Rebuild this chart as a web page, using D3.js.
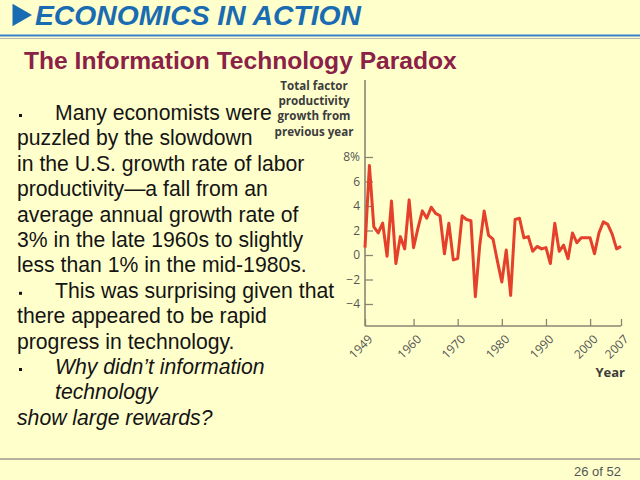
<!DOCTYPE html>
<html>
<head>
<meta charset="utf-8">
<script src="https://cdn.jsdelivr.net/npm/d3@7"></script>
<style>
  html, body { margin: 0; padding: 0; background: #ffffcc; }
  svg { display: block; }
</style>
</head>
<body>
<svg id="chart" width="640" height="480"></svg>
<script>
// ---- Data ----
const years = [1949,1950,1951,1952,1953,1954,1955,1956,1957,1958,1959,1960,1961,1962,1963,1964,1965,1966,1967,1968,1969,1970,1971,1972,1973,1974,1975,1976,1977,1978,1979,1980,1981,1982,1983,1984,1985,1986,1987,1988,1989,1990,1991,1992,1993,1994,1995,1996,1997,1998,1999,2000,2001,2002,2003,2004,2005,2006,2007];
const tfpGrowth = [0.6,7.3,2.3,1.8,2.6,-0.1,4.4,-0.7,1.5,0.5,4.5,0.6,2.2,3.6,3.0,3.9,3.4,3.2,0.1,2.6,-0.4,-0.3,3.2,2.9,2.8,-3.4,0.8,3.6,1.6,1.3,-0.5,-2.2,0.4,-3.3,2.9,3.0,1.4,1.5,0.3,0.7,0.5,0.6,-0.7,2.6,0.3,0.8,-0.3,1.8,1.0,1.4,1.4,1.4,0.1,1.8,2.7,2.5,1.7,0.5,0.7];
const xTickYears = [1949,1960,1970,1980,1990,2000,2007];
const yTickValues = [-4,-2,0,2,4,6,8];
const yLabelLines = ["Total factor","productivity","growth from","previous year"];
const headerText = "ECONOMICS IN ACTION";
const subtitleText = "The Information Technology Paradox";
const bodyLines = [
  {t:"Many economists were", bullet:true, italic:false},
  {t:"puzzled by the slowdown", bullet:false, italic:false},
  {t:"in the U.S. growth rate of labor", bullet:false, italic:false},
  {t:"productivity\u2014a fall from an", bullet:false, italic:false},
  {t:"average annual growth rate of", bullet:false, italic:false},
  {t:"3% in the late 1960s to slightly", bullet:false, italic:false},
  {t:"less than 1% in the mid-1980s.", bullet:false, italic:false},
  {t:"This was surprising given that", bullet:true, italic:false},
  {t:"there appeared to be rapid", bullet:false, italic:false},
  {t:"progress in technology.", bullet:false, italic:false},
  {t:"Why didn\u2019t information", bullet:true, italic:true},
  {t:"technology", bullet:false, italic:true, indent:true},
  {t:"show large rewards?", bullet:false, italic:true}
];
const pageLabel = "26 of 52";

// ---- Layout ----
const svg = d3.select("#chart");
const W = 640, H = 480;
svg.append("rect").attr("width", W).attr("height", H).attr("fill", "#ffffcc");

// Header
svg.append("path")
  .attr("d", d3.symbol().type(d3.symbolTriangle).size(220)())
  .attr("transform", "translate(19,15) rotate(90)")
  .attr("fill", "#1a6cb2");
svg.append("text").attr("x", 35).attr("y", 24.5)
  .attr("font-family", "Liberation Sans, Arial, sans-serif")
  .attr("font-size", 28.3).attr("font-weight", "bold").attr("font-style", "italic")
  .attr("fill", "#1a6cb2").text(headerText);
svg.append("line").attr("x1", 0).attr("x2", W).attr("y1", 35.5).attr("y2", 35.5)
  .attr("stroke", "#3b7fcf").attr("stroke-width", 2);
svg.append("line").attr("x1", 0).attr("x2", W).attr("y1", 38.5).attr("y2", 38.5)
  .attr("stroke", "#b8b8a8").attr("stroke-width", 1);

// Subtitle
svg.append("text").attr("x", 24).attr("y", 68.5)
  .attr("font-family", "Liberation Sans, Arial, sans-serif")
  .attr("font-size", 24.6).attr("font-weight", "bold")
  .attr("fill", "#8b2146").text(subtitleText);

// Body text
const body = svg.append("g")
  .attr("font-family", "Liberation Sans, Arial, sans-serif")
  .attr("font-size", 21.2).attr("fill", "#141414");
bodyLines.forEach((d, i) => {
  const y = 120 + i * 25.4;
  if (d.bullet) {
    body.append("rect").attr("x", 19).attr("y", y - 6).attr("width", 3).attr("height", 3).attr("fill", "#141414");
  }
  body.append("text")
    .attr("x", (d.bullet || d.indent) ? 55 : 17)
    .attr("y", y)
    .attr("font-style", d.italic ? "italic" : "normal")
    .text(d.t);
});

// Chart
const x = d3.scaleLinear().domain([1949, 2007]).range([365, 621]);
const y = d3.scaleLinear().domain([-4, 8]).range([304, 157]);
const axisColor = "#8c8573";
const baseY = 326, axisTop = 80;

// Y axis
const yAxis = svg.append("g").attr("transform", `translate(${x(1949)},0)`)
  .call(d3.axisLeft(y).tickValues(yTickValues).tickSizeInner(-8).tickSizeOuter(0).tickPadding(5)
    .tickFormat(v => (v === 8 ? "8%" : (v < 0 ? "\u2212" + Math.abs(v) : String(v)))));
yAxis.select(".domain").remove();
yAxis.selectAll("line").attr("stroke", axisColor).attr("stroke-width", 1.3);
yAxis.selectAll("text").attr("font-family", "Open Sans, sans-serif").attr("font-size", 12).attr("fill", "#555");
svg.append("line").attr("x1", x(1949)).attr("x2", x(1949)).attr("y1", axisTop).attr("y2", baseY)
  .attr("stroke", axisColor).attr("stroke-width", 1.6);

// X axis
const xAxis = svg.append("g").attr("transform", `translate(0,${baseY})`)
  .call(d3.axisBottom(x).tickValues(xTickYears).tickFormat(d3.format("d")).tickSizeInner(-7).tickSizeOuter(0));
xAxis.select(".domain").remove();
xAxis.selectAll("line").attr("stroke", axisColor).attr("stroke-width", 1.3);
xAxis.selectAll("text")
  .attr("font-family", "Open Sans, sans-serif").attr("font-size", 12).attr("fill", "#555")
  .attr("text-anchor", "end").attr("x", 0).attr("y", 0).attr("dy", "0.35em")
  .attr("transform", "translate(5,11) rotate(-45)");
svg.append("line").attr("x1", x(1949)).attr("x2", x(2007)).attr("y1", baseY).attr("y2", baseY)
  .attr("stroke", axisColor).attr("stroke-width", 1.6);

// Axis titles
const yl = svg.append("text").attr("text-anchor", "middle")
  .attr("font-family", "Open Sans, sans-serif").attr("font-size", 11.6).attr("font-weight", "bold").attr("fill", "#3c3c3c");
yLabelLines.forEach((t, i) => {
  yl.append("tspan").attr("x", 314).attr("y", 89.5 + i * 15.4).text(t);
});
svg.append("text").attr("x", 625).attr("y", 377).attr("text-anchor", "end")
  .attr("font-family", "Open Sans, sans-serif").attr("font-size", 13).attr("font-weight", "bold").attr("fill", "#3c3c3c")
  .text("Year");

// Data line
const line = d3.line().x((d, i) => x(years[i])).y(d => y(d));
svg.append("path").datum(tfpGrowth)
  .attr("d", line).attr("fill", "none").attr("stroke", "#e4402b")
  .attr("stroke-width", 3).attr("stroke-linejoin", "round");

// Footer
svg.append("line").attr("x1", 0).attr("x2", W).attr("y1", 459).attr("y2", 459)
  .attr("stroke", "#9a9a8c").attr("stroke-width", 1.5);
svg.append("text").attr("x", 621).attr("y", 476).attr("text-anchor", "end")
  .attr("font-family", "Liberation Sans, Arial, sans-serif").attr("font-size", 13).attr("fill", "#555")
  .text(pageLabel);
</script>
</body>
</html>
